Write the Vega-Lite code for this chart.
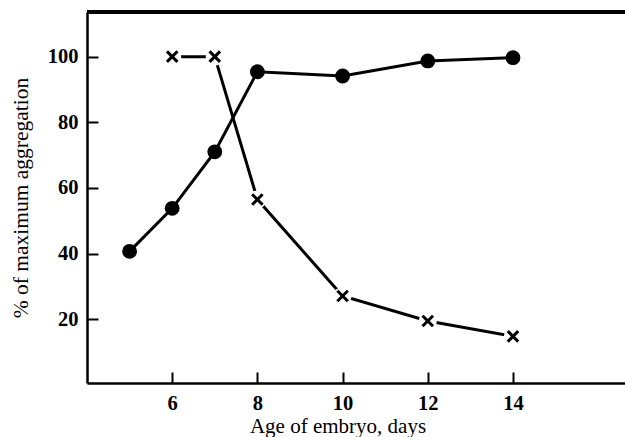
{
  "$schema": "https://vega.github.io/schema/vega-lite/v6.json",
  "width": 538,
  "height": 371,
  "autosize": "none",
  "padding": {"left": 87, "top": 12, "right": 0, "bottom": 54},
  "background": "white",
  "config": {
    "view": {"stroke": null},
    "font": "Liberation Serif",
    "axis": {"grid": false, "tickSize": -11, "tickWidth": 2, "tickColor": "black",
      "domainColor": "black", "domainWidth": 2.5, "labelFont": "Liberation Serif", "labelFontSize": 20.5, "labelFontWeight": "bold", "labelColor": "black",
      "titleFont": "Liberation Serif", "titleFontSize": 21, "titleFontWeight": "normal", "titleColor": "black"}
  },
  "data": {"values": [
    {"day": 5, "pct": 40.7, "series": "dot"},
    {"day": 6, "pct": 53.8, "series": "dot"},
    {"day": 7, "pct": 71.0, "series": "dot"},
    {"day": 8, "pct": 95.4, "series": "dot"},
    {"day": 10, "pct": 94.1, "series": "dot"},
    {"day": 12, "pct": 98.7, "series": "dot"},
    {"day": 14, "pct": 99.7, "series": "dot"},
    {"day": 6, "pct": 100, "series": "cross"},
    {"day": 7, "pct": 100, "series": "cross"},
    {"day": 8, "pct": 56.5, "series": "cross"},
    {"day": 10, "pct": 27.1, "series": "cross"},
    {"day": 12, "pct": 19.5, "series": "cross"},
    {"day": 14, "pct": 14.8, "series": "cross"}
  ]},
  "layer": [
    {
      "transform": [{"filter": "datum.series === 'dot'"}],
      "mark": {"type": "line", "color": "black", "strokeWidth": 3},
      "encoding": {
        "x": {"field": "day", "type": "quantitative",
          "scale": {"domain": [4, 16.63], "nice": false, "zero": false},
          "axis": {"values": [6, 8, 10, 12, 14], "labelFontSize": 20.5, "labelPadding": 21.5,
            "title": "Age of embryo, days", "titleX": 250.5, "titleY": 32.5}},
        "y": {"field": "pct", "type": "quantitative",
          "scale": {"domain": [0.6, 113.6], "nice": false, "zero": false},
          "axis": {"values": [20, 40, 60, 80, 100], "labelFontSize": 20.5, "labelPadding": 20,
            "title": "% of maximum aggregation", "titleFontSize": 21.5, "titleX": -55, "titleY": 185.5}}
      }
    },
    {
      "mark": {"type": "rule", "color": "black", "strokeWidth": 2.5},
      "encoding": {"y": {"datum": 113.6, "type": "quantitative"}}
    },
    {
      "transform": [{"filter": "datum.series === 'cross'"}],
      "mark": {"type": "line", "color": "black", "strokeWidth": 3},
      "encoding": {
        "x": {"field": "day", "type": "quantitative"},
        "y": {"field": "pct", "type": "quantitative"}
      }
    },
    {
      "transform": [{"filter": "datum.series === 'cross'"}],
      "mark": {"type": "point", "shape": "circle", "filled": true, "color": "white", "opacity": 1, "size": 330},
      "encoding": {
        "x": {"field": "day", "type": "quantitative"},
        "y": {"field": "pct", "type": "quantitative"}
      }
    },
    {
      "transform": [{"filter": "datum.series === 'cross'"}],
      "mark": {"type": "point", "shape": "M-1,-1L1,1M-1,1L1,-1", "filled": false, "color": "black", "strokeWidth": 3, "opacity": 1, "size": 110},
      "encoding": {
        "x": {"field": "day", "type": "quantitative"},
        "y": {"field": "pct", "type": "quantitative"}
      }
    },
    {
      "transform": [{"filter": "datum.series === 'dot'"}],
      "mark": {"type": "point", "shape": "circle", "filled": true, "color": "black", "opacity": 1, "size": 220},
      "encoding": {
        "x": {"field": "day", "type": "quantitative"},
        "y": {"field": "pct", "type": "quantitative"}
      }
    }
  ]
}
